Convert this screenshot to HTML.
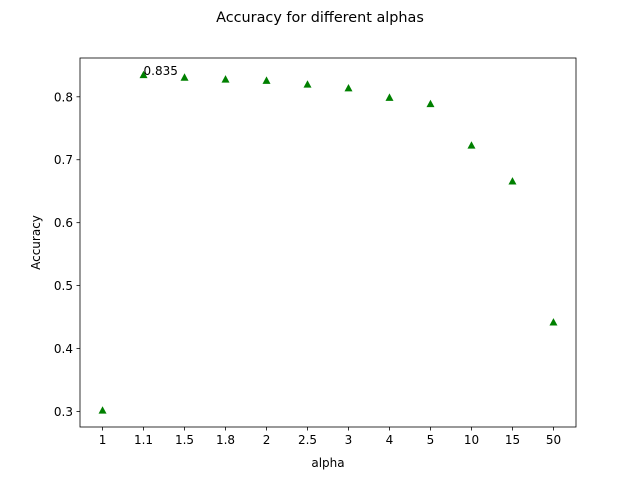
<!DOCTYPE html>
<html><head><meta charset="utf-8"><style>
body{margin:0;background:#fff;}
svg text{font-family:"DejaVu Sans","Liberation Sans",sans-serif;}
</style></head><body>
<svg id="chart" width="640" height="480" xmlns="http://www.w3.org/2000/svg">
<rect width="640" height="480" fill="#fff"/>
<text x="320" y="22" font-size="14.4" text-anchor="middle">Accuracy for different alphas</text>
<g id="plot"></g>
<rect x="80" y="58" width="496" height="369" fill="none" stroke="#000" stroke-width="0.8"/>
<text x="328" y="467" font-size="12" text-anchor="middle">alpha</text>
<text x="0" y="0" font-size="12" text-anchor="middle" transform="translate(40,242.5) rotate(-90)">Accuracy</text>
</svg>
<script>
const categories=["1","1.1","1.5","1.8","2","2.5","3","4","5","10","15","50"];
const accuracy=[0.302,0.835,0.831,0.828,0.826,0.820,0.814,0.799,0.789,0.723,0.666,0.442];
const yTicks=[0.3,0.4,0.5,0.6,0.7,0.8];
const NS="http://www.w3.org/2000/svg";
const L=80,R=576,T=58,B=427;
const ymin=Math.min(...accuracy),ymax=Math.max(...accuracy);
const pad=(ymax-ymin)*0.05;
const y0=ymin-pad,y1=ymax+pad;
const n=categories.length;
function xs(i){return L+(i+0.55)/(n-1+1.1)*(R-L);}
function ys(v){return B-(v-y0)/(y1-y0)*(B-T);}
const g=document.getElementById('plot');
function mk(t,a){const e=document.createElementNS(NS,t);for(const k in a)e.setAttribute(k,a[k]);g.appendChild(e);return e;}
categories.forEach((c,i)=>{
  const x=xs(i);
  const tk=mk('line',{x1:x,x2:x,y1:B,y2:B+3.5,stroke:'#000','stroke-width':0.8});
  
  
  const t=mk('text',{x:x,y:B+17,'font-size':12,'text-anchor':'middle'});
  t.textContent=c;
  
  
});
yTicks.forEach(v=>{
  const y=ys(v);
  const tk=mk('line',{x1:L-3.5,x2:L,y1:y,y2:y,stroke:'#000','stroke-width':0.8});
  
  
  const t=mk('text',{x:L-7,y:y+4.5,'font-size':12,'text-anchor':'end'});
  t.textContent=v.toFixed(1);
  
  
});
accuracy.forEach((v,i)=>{
  const x=xs(i),y=ys(v),s=4;
  const p=mk('polygon',{points:`${x},${y-s} ${x-s},${y+s*0.85} ${x+s},${y+s*0.85}`,fill:'#008000'});
  
  
});
const bi=accuracy.indexOf(ymax);
const an=mk('text',{x:xs(bi),y:ys(ymax),'font-size':12});
an.textContent=ymax.toFixed(3);


</script>
</body></html>
